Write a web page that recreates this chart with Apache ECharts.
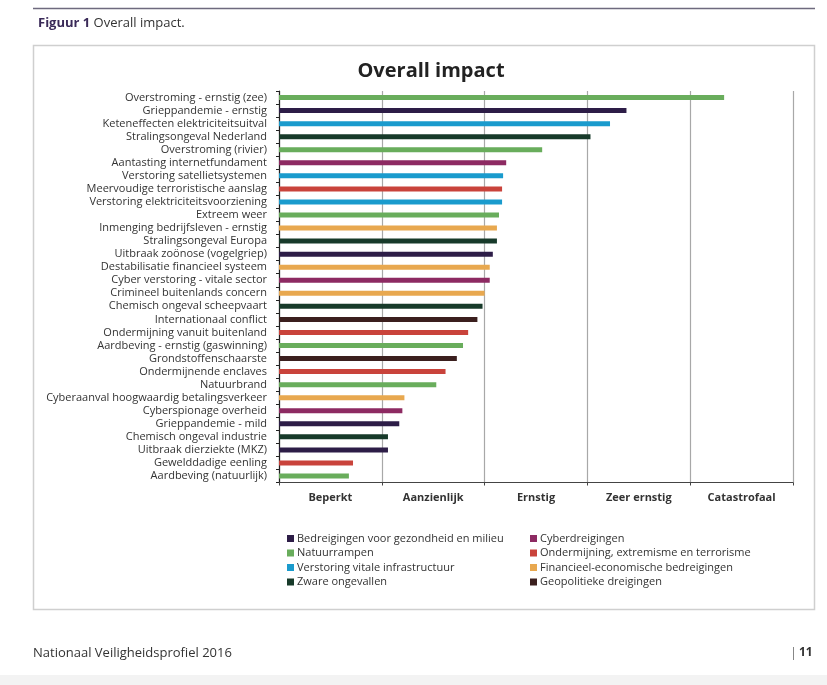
<!DOCTYPE html>
<html>
<head>
<meta charset="utf-8">
<script src="https://cdn.jsdelivr.net/npm/echarts@6/dist/echarts.min.js"></script>
<style>
  html, body { margin: 0; padding: 0; background: #fff; }
  #chart { width: 827px; height: 685px; }
</style>
</head>
<body>
<div id="chart"></div>
<script>
// risico's, van boven naar beneden
var categories = [
    'Overstroming - ernstig (zee)', 'Grieppandemie - ernstig', 'Keteneffecten elektriciteitsuitval',
    'Stralingsongeval Nederland', 'Overstroming (rivier)', 'Aantasting internetfundament',
    'Verstoring satellietsystemen', 'Meervoudige terroristische aanslag', 'Verstoring elektriciteitsvoorziening',
    'Extreem weer', 'Inmenging bedrijfsleven - ernstig', 'Stralingsongeval Europa',
    'Uitbraak zoönose (vogelgriep)', 'Destabilisatie financieel systeem', 'Cyber verstoring - vitale sector',
    'Crimineel buitenlands concern', 'Chemisch ongeval scheepvaart', 'Internationaal conflict',
    'Ondermijning vanuit buitenland', 'Aardbeving - ernstig (gaswinning)', 'Grondstoffenschaarste',
    'Ondermijnende enclaves', 'Natuurbrand', 'Cyberaanval hoogwaardig betalingsverkeer',
    'Cyberspionage overheid', 'Grieppandemie - mild', 'Chemisch ongeval industrie',
    'Uitbraak dierziekte (MKZ)', 'Gewelddadige eenling', 'Aardbeving (natuurlijk)'
];
var impact = [
    4.33, 3.38, 3.22, 3.03, 2.56, 2.21, 2.18, 2.17, 2.17, 2.14,
    2.12, 2.12, 2.08, 2.05, 2.05, 2.00, 1.98, 1.93, 1.84, 1.79,
    1.73, 1.62, 1.53, 1.22, 1.20, 1.17, 1.06, 1.06, 0.72, 0.68
];
// index in themes[] per risico
var theme = [
    1, 0, 2, 3, 1, 4, 2, 5, 2, 1,
    6, 3, 0, 6, 4, 6, 3, 7, 5, 1,
    7, 5, 1, 6, 4, 0, 3, 0, 5, 1
];
var themes = [
    'Bedreigingen voor gezondheid en milieu', 'Natuurrampen', 'Verstoring vitale infrastructuur',
    'Zware ongevallen', 'Cyberdreigingen', 'Ondermijning, extremisme en terrorisme',
    'Financieel-economische bedreigingen', 'Geopolitieke dreigingen'
];
var themeColors = ['#2d1d47', '#69ad5c', '#1a9bcd', '#173a2a', '#8d2a62', '#c9433b', '#e8a84f', '#3b1f1e'];
var impactLabels = ['Beperkt', 'Aanzienlijk', 'Ernstig', 'Zeer ernstig', 'Catastrofaal'];

var FONT = '"Open Sans", "Noto Sans", sans-serif';

var series = [];
for (var t = 0; t < themes.length; t++) {
    var data = [];
    for (var i = 0; i < categories.length; i++) {
        data.push(theme[i] == t ? impact[i] : '-');
    }
    series.push({
        name: themes[t],
        type: 'bar',
        xAxisIndex: 0,
        data: data,
        barWidth: 5,
        barGap: '-100%',
        itemStyle: { color: themeColors[t] },
        silent: true
    });
}

var myChart = echarts.init(document.getElementById('chart'), null, { renderer: 'canvas' });

var legendStyle = { fontFamily: FONT, fontSize: 11, color: '#333', padding: [0, 0, 0, -2], lineHeight: 13 };

var option = {
    backgroundColor: '#fff',
    animation: false,
    textStyle: { fontFamily: FONT },
    title: [
        {
            text: '{b|Figuur 1} Overall impact.',
            left: 33, top: 12,
            textStyle: {
                fontFamily: FONT, fontSize: 13, fontWeight: 'normal', color: '#333',
                rich: { b: { fontFamily: FONT, fontSize: 13, fontWeight: 'bold', color: '#3a2a58' } }
            }
        },
        {
            text: 'Overall impact',
            left: 426, top: 56, textAlign: 'center',
            textStyle: { fontFamily: FONT, fontSize: 20, fontWeight: 'bold', color: '#222' }
        }
    ],
    graphic: [
        { type: 'line', shape: { x1: 33, y1: 8.5, x2: 815, y2: 8.5 }, style: { stroke: '#6e6a7e', lineWidth: 1.5 } },
        { type: 'rect', shape: { x: 33.5, y: 45.5, width: 781, height: 564 }, style: { fill: 'none', stroke: '#cfcfcf', lineWidth: 1.5 }, z: -1 },
        { type: 'rect', shape: { x: 0, y: 675, width: 827, height: 10 }, style: { fill: '#f3f3f3' } },
        { type: 'text', left: 33, top: 647, style: { text: 'Nationaal Veiligheidsprofiel 2016', font: '13px ' + FONT, fill: '#333' } },
        { type: 'text', left: 790, top: 647, style: { text: '|', font: '13px ' + FONT, fill: '#777' } },
        { type: 'text', left: 799, top: 647, style: { text: '11', font: 'bold 12px ' + FONT, fill: '#333' } }
    ],
    legend: [
        {
            data: themes.slice(0, 4),
            orient: 'vertical',
            left: 282, top: 527,
            itemWidth: 7, itemHeight: 7, itemGap: 1.5,
            icon: 'rect',
            selectedMode: false,
            textStyle: legendStyle
        },
        {
            data: themes.slice(4),
            orient: 'vertical',
            left: 525, top: 527,
            itemWidth: 7, itemHeight: 7, itemGap: 1.5,
            icon: 'rect',
            selectedMode: false,
            textStyle: legendStyle
        }
    ],
    grid: { left: 279, right: 34, top: 91, bottom: 202.5, containLabel: false },
    xAxis: [
        {
            type: 'value',
            min: 0, max: 5, interval: 1,
            axisLine: { show: true, lineStyle: { color: '#444', width: 1 } },
            axisTick: { show: true, length: 3, lineStyle: { color: '#444' } },
            axisLabel: { show: false },
            splitLine: { show: true, lineStyle: { color: '#a8a8a8', width: 1.2 } }
        },
        {
            type: 'category',
            position: 'bottom',
            data: impactLabels,
            axisLine: { show: false },
            axisTick: { show: false },
            axisLabel: { margin: 10, fontFamily: FONT, fontSize: 11, fontWeight: 'bold', color: '#333' },
            splitLine: { show: false }
        }
    ],
    yAxis: {
        type: 'category',
        inverse: true,
        data: categories,
        axisLine: { show: true, lineStyle: { color: '#222', width: 1.2 } },
        axisTick: { show: true, length: 3, lineStyle: { color: '#222' } },
        axisLabel: { margin: 12, interval: 0, fontFamily: FONT, fontSize: 11, color: '#333' }
    },
    series: series
};

myChart.setOption(option);
window.onresize = myChart.resize;
</script>
</body>
</html>
